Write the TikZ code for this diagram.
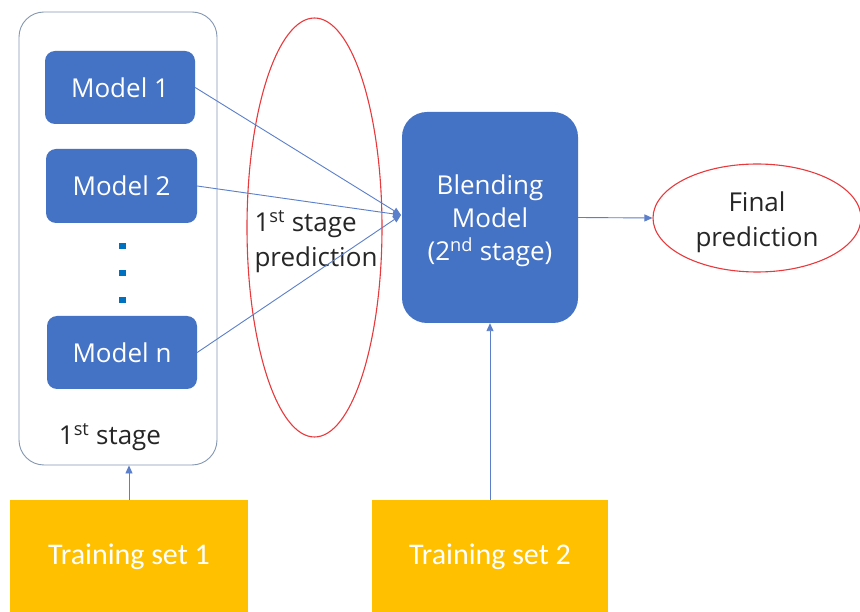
\documentclass[tikz,border=0pt]{standalone}
\usepackage{fontspec}
\setmainfont{Open Sans}
\newfontfamily\narrowfont{Carlito}
\usetikzlibrary{arrows.meta,shapes.geometric}
\definecolor{mblue}{HTML}{4472C4}
\definecolor{lblue}{HTML}{5B7FCB}
\definecolor{dblue}{HTML}{0070C0}
\definecolor{gbox}{HTML}{8497B0}
\definecolor{rline}{HTML}{E8393C}
\definecolor{ygold}{HTML}{FFC000}
\begin{document}
\begin{tikzpicture}[x=1pt,y=-1pt,
  modelbox/.style={draw=none,fill=mblue,rounded corners=10pt,text=white,font=\fontsize{26}{30}\selectfont,inner sep=0pt},
  conn/.style={draw=lblue,line width=0.9pt,-{Triangle[length=8pt,width=7pt]}},
  trainbox/.style={fill=ygold,draw=none,text=white,font=\narrowfont\fontsize{30}{34}\selectfont,inner sep=0pt},
  redell/.style={ellipse,draw=rline,line width=1.1pt,inner sep=0pt},
  dotsq/.style={fill=dblue,draw=none,minimum width=7pt,minimum height=6pt,inner sep=0pt}
]
\useasboundingbox (0,0) rectangle (860,612);
\fill[white] (0,0) rectangle (860,612);
% first stage container
\node[draw=gbox,line width=0.9pt,rounded corners=25pt,minimum width=198pt,minimum height=453pt,inner sep=0pt] (stage) at (118,238.5) {};
\node[modelbox,minimum width=150pt,minimum height=73pt] (m1) at (120,87.5) {Model 1};
\node[modelbox,minimum width=151pt,minimum height=74pt] (m2) at (121.5,186) {Model 2};
\node[modelbox,minimum width=150pt,minimum height=73pt] (mn) at (122,352.5) {Model n};
\node[dotsq] (d1) at (122,246) {};
\node[dotsq] (d2) at (122,273) {};
\node[dotsq] (d3) at (122,300) {};
\node[font=\fontsize{26}{30}\selectfont,text=black!85] (stlab) at (110,437) {1\textsuperscript{st} stage};
% prediction ellipse
\node[redell,minimum width=135pt,minimum height=419pt] (pell) at (314.5,227.5) {};
\node[font=\fontsize{26}{35}\selectfont,text=black!85,align=left] (plab) at (316,242) {1\textsuperscript{st} stage\\prediction};
% blending model
\node[fill=mblue,draw=none,rounded corners=25pt,minimum width=176pt,minimum height=211pt,inner sep=0pt] (blend) at (490,217.5) {};
\node[text=white,align=center,font=\fontsize{26}{33}\selectfont] (blab) at (490,221) {Blending\\Model\\(2\textsuperscript{nd} stage)};
% final prediction
\node[redell,minimum width=208pt,minimum height=108pt] (final) at (757,218) {};
\node[align=center,font=\fontsize{26}{35}\selectfont,text=black!85] (flab) at (757,222) {Final\\prediction};
% training sets
\node[trainbox,minimum width=238pt,minimum height=120pt,anchor=north] (t1) at (129,500) {};
\node[trainbox] (t1lab) at (129,557) {Training set 1};
\node[trainbox,minimum width=236pt,minimum height=120pt,anchor=north] (t2) at (490,500) {};
\node[trainbox] (t2lab) at (490,557) {Training set 2};
% connectors
\coordinate (conv) at (401,215);
\draw[conn] (m1.east) -- (conv);
\draw[conn] (m2.east) -- (conv);
\draw[conn] (mn.east) -- (conv);
\draw[conn] (blend.east) -- (final.west);
\draw[conn] (t1.north) -- (t1.north |- stage.south);
\draw[conn] (t2.north) -- (blend.south);
\end{tikzpicture}
\end{document}
